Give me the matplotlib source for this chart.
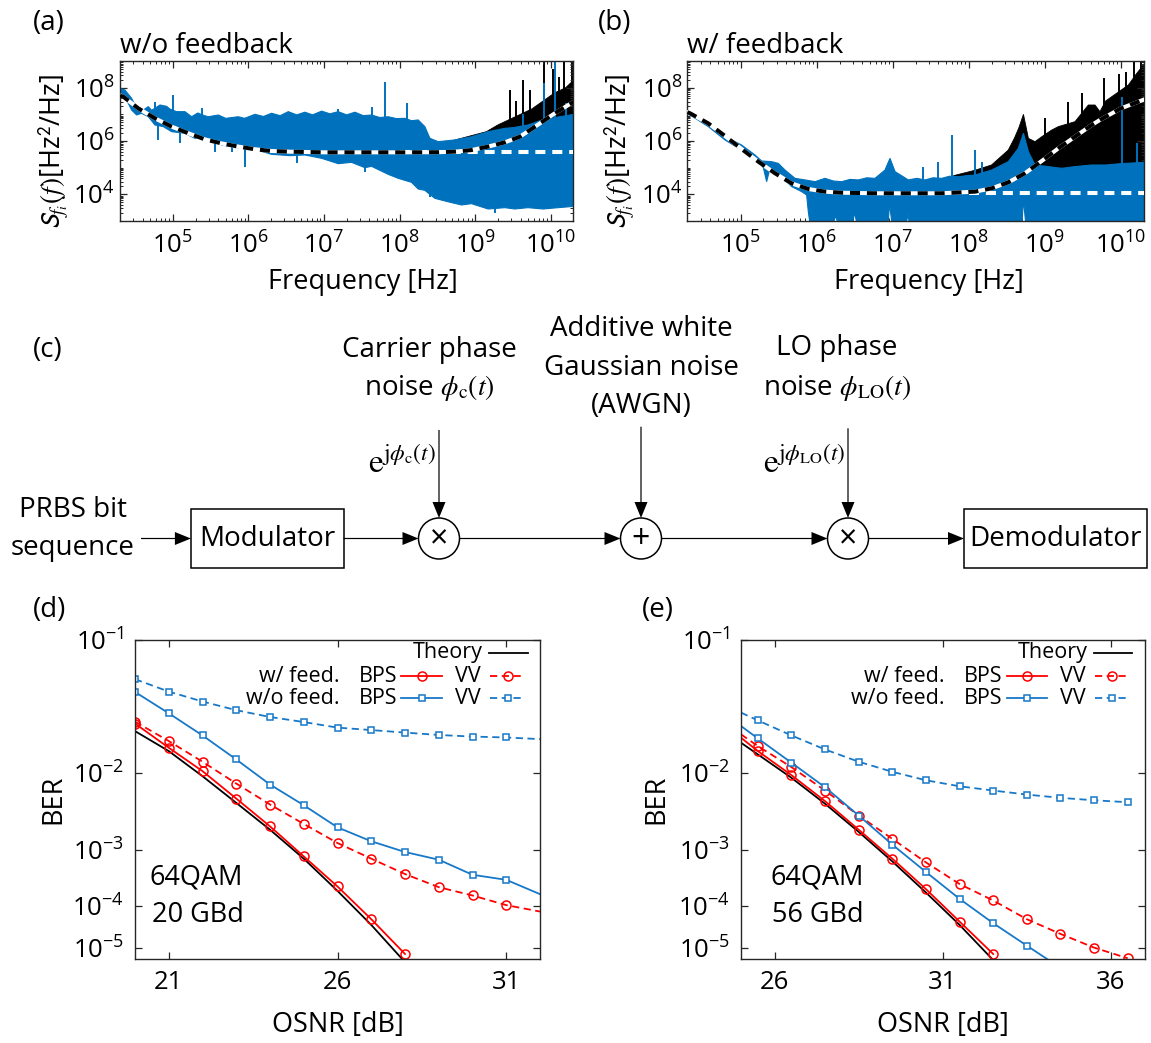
import numpy as np
import matplotlib
matplotlib.use("Agg")
import matplotlib.pyplot as plt
from matplotlib.ticker import FixedLocator, LogLocator, NullLocator, NullFormatter, LogFormatterSciNotation
from matplotlib.patches import Circle, Rectangle

plt.rcParams['font.family'] = ['Open Sans', 'DejaVu Sans']
plt.rcParams['mathtext.fontset'] = 'custom'
plt.rcParams['mathtext.rm'] = 'Open Sans'
plt.rcParams['mathtext.it'] = 'Open Sans:italic'
plt.rcParams['mathtext.bf'] = 'Open Sans:bold'
plt.rcParams['mathtext.sf'] = 'Open Sans'

BLUE = '#0072BD'
BER_BLUE = '#1878C8'
RED = '#FF0000'
AXC = '#262626'

# ---------------- (a) w/o feedback, spectra (log10 units)
a_fit_logf = [4.30, 4.345, 4.543, 4.764, 4.984, 5.205, 5.425, 5.646, 5.866, 6.087, 6.307, 6.528,
              7.0, 7.5, 8.0, 8.51, 8.732, 8.953, 9.173, 9.394, 9.592, 9.8, 10.055, 10.31]
a_fit_logS = [7.70, 7.66, 7.225, 6.85, 6.54, 6.29, 6.06, 5.91, 5.79, 5.69, 5.625, 5.60,
              5.575, 5.575, 5.575, 5.58, 5.60, 5.66, 5.79, 5.95, 6.16, 6.55, 7.04, 7.48]
a_floor_logf = [8.0, 10.31]
a_floor_logS = [5.575, 5.575]

a_blue_up_logf = [4.30, 4.367, 4.455, 4.543, 4.610, 4.676, 4.72, 4.830, 4.918, 4.96, 5.050, 5.161,
                  5.249, 5.33, 5.42, 5.470, 5.602, 5.70, 5.866, 5.95, 6.087, 6.2, 6.307, 6.42, 6.528,
                  6.64, 6.748, 6.85, 6.969, 7.08, 7.189, 7.3, 7.410, 7.52, 7.630, 7.74, 7.850, 7.96,
                  8.071, 8.16, 8.247, 8.335, 8.402, 8.512, 8.732, 8.953, 9.173, 9.394, 9.5, 9.7, 9.9,
                  10.1, 10.31]
a_blue_up_logS = [7.975, 7.91, 7.60, 7.10, 7.16, 7.29, 7.15, 7.35, 7.30, 7.20, 7.10, 7.10,
                  6.91, 7.05, 6.95, 6.91, 6.975, 6.85, 6.91, 6.85, 7.00, 6.92, 7.04, 6.95, 7.10,
                  6.98, 7.08, 6.98, 7.12, 7.02, 7.10, 6.98, 7.08, 6.95, 6.975, 6.88, 6.91, 6.84,
                  6.85, 6.76, 6.79, 6.54, 6.10, 5.975, 6.04, 6.16, 6.35, 6.475, 6.5, 6.6, 6.8,
                  6.9, 7.0]
a_blue_lo_logf = [4.30, 4.367, 4.455, 4.521, 4.587, 4.676, 4.764, 4.874, 4.984, 5.161, 5.293, 5.425,
                  5.646, 5.85, 6.042, 6.307, 6.55, 6.748, 6.969, 7.189, 7.365, 7.542, 7.630, 7.850,
                  7.983, 8.159, 8.247, 8.335, 8.468, 8.644, 8.820, 8.953, 9.173, 9.394, 9.526, 9.7,
                  9.9, 10.1, 10.31]
a_blue_lo_logS = [7.875, 7.66, 7.16, 6.975, 7.04, 6.91, 6.6, 6.54, 6.35, 6.29, 6.10, 6.10,
                  5.85, 5.75, 5.725, 5.5, 5.45, 5.475, 5.35, 5.15, 5.2, 5.0, 5.05, 4.75,
                  4.6, 4.45, 4.2, 4.15, 3.85, 3.72, 3.6, 3.65, 3.45, 3.5, 3.45, 3.5,
                  3.45, 3.5, 3.55]
# narrow upward peaks and downward dips of the blue trace
a_blue_spk_logf = [4.764, 5.006, 5.381, 7.19, 7.63, 7.806, 8.093, 9.63, 9.906, 10.055, 10.2]
a_blue_spk_logS = [7.475, 7.725, 7.25, 7.2, 7.29, 8.225, 7.41, 7.0, 8.16, 9.0, 7.42]
a_blue_dip_logf = [4.808, 5.095, 5.557, 5.778, 5.954, 6.638, 7.542, 8.40, 9.261]
a_blue_dip_logS = [6.04, 5.91, 5.60, 5.60, 5.04, 5.16, 4.85, 3.9, 3.29]
a_black_logf = [8.6, 8.75, 8.95, 9.15, 9.3, 9.45, 9.6, 9.75, 9.9, 10.05, 10.2, 10.31]
a_black_logS = [5.9, 6.05, 6.2, 6.35, 6.6, 6.8, 7.0, 7.2, 7.5, 7.8, 8.0, 8.3]
a_black_spk_logf = [9.466, 9.54, 9.63, 9.73, 9.906, 10.03, 10.11, 10.18, 10.28]
a_black_spk_logS = [7.91, 7.5, 8.29, 7.9, 9.0, 8.7, 8.4, 9.0, 9.0]

# ---------------- (b) w/ feedback
b_fit_logf = [4.30, 4.335, 4.576, 4.795, 5.014, 5.234, 5.453, 5.672, 5.891, 6.110, 6.330, 6.768,
              7.206, 7.645, 8.083, 8.302, 8.521, 8.740, 8.960, 9.179, 9.398, 9.617, 9.726, 10.0, 10.31]
b_fit_logS = [7.08, 7.04, 6.66, 6.19, 5.70, 5.225, 4.79, 4.41, 4.20, 4.10, 4.06, 4.04,
              4.04, 4.04, 4.10, 4.225, 4.45, 4.79, 5.25, 5.725, 6.16, 6.60, 6.79, 7.22, 7.56]
b_floor_logf = [8.0, 10.31]
b_floor_logS = [4.04, 4.04]

b_blue_up_logf = [4.30, 4.335, 4.576, 4.708, 4.795, 4.883, 5.014, 5.19, 5.278, 5.409, 5.497, 5.585,
                  5.716, 5.848, 5.979, 6.11, 6.22, 6.33, 6.44, 6.549, 6.66, 6.768, 6.899, 6.965,
                  7.032, 7.206, 7.32, 7.425, 7.53, 7.645, 7.75, 7.864, 7.97, 8.083, 8.302, 8.521,
                  8.653, 8.72, 8.785, 8.872, 9.047, 9.222, 9.398, 9.617, 9.8, 10.0, 10.31]
b_blue_up_logS = [7.1, 7.075, 6.66, 6.29, 6.225, 6.04, 5.85, 5.475, 5.25, 5.225, 5.16, 4.91,
                  4.60, 4.54, 4.475, 4.60, 4.50, 4.475, 4.56, 4.54, 4.62, 4.60, 4.91, 5.35,
                  4.85, 4.54, 4.60, 4.54, 4.62, 4.60, 4.68, 4.66, 4.70, 4.725, 4.91, 5.225,
                  5.725, 6.29, 5.60, 5.10, 5.04, 4.975, 5.04, 5.10, 5.1, 5.15, 5.2]
b_blue_lo_logf = [4.30, 4.335, 4.576, 4.795, 5.014, 5.234, 5.30, 5.343, 5.38, 5.409, 5.541, 5.672,
                  5.804, 5.869, 5.891, 5.913, 6.22, 6.25, 6.28, 6.47, 6.5, 6.53, 6.94, 6.96, 6.99,
                  7.18, 7.2, 7.22, 8.70, 8.72, 8.75, 10.31]
b_blue_lo_logS = [7.0, 6.975, 6.54, 6.04, 5.66, 5.225, 5.0, 4.475, 4.9, 4.91, 4.66, 4.29,
                  4.10, 3.975, 3.35, 2.9, 2.9, 3.2, 2.9, 2.9, 3.3, 2.9, 2.9, 3.66, 2.9,
                  2.9, 3.25, 2.9, 2.9, 3.79, 2.9, 2.9]
b_blue_spk_logf = [7.403, 7.60, 7.776, 8.083, 8.17, 10.02, 10.21]
b_blue_spk_logS = [5.04, 5.225, 6.225, 5.66, 5.22, 7.66, 5.91]
b_blue_dip_logf = []
b_blue_dip_logS = []
b_black_logf = [7.8, 8.08, 8.3, 8.52, 8.6, 8.66, 8.72, 8.785, 8.872, 8.96, 9.091, 9.179, 9.398,
                9.573, 9.661, 9.726, 9.8, 9.95, 10.1, 10.2, 10.31]
b_black_logS = [4.7, 4.9, 5.1, 5.66, 6.1, 6.5, 7.0, 6.1, 5.975, 6.16, 6.41, 6.54, 6.725,
                7.35, 7.35, 7.1, 7.5, 7.8, 8.1, 8.5, 8.9]
b_black_spk_logf = [9.004, 9.311, 9.486, 9.78, 9.98, 10.07, 10.17, 10.27]
b_black_spk_logS = [6.85, 7.475, 7.79, 8.36, 8.5, 8.6, 9.0, 9.0]

# ---------------- (d) 64QAM 20 GBd
d_osnr = [20, 21, 22, 23, 24, 25, 26, 27, 28, 29, 30, 31, 32]
d_wo_vv = [0.0593, 0.0491, 0.0418, 0.0361, 0.0320, 0.0292, 0.0263, 0.0251, 0.0239, 0.0228, 0.0221, 0.0217, 0.0210]
d_wo_bps = [0.0488, 0.0342, 0.0226, 0.01362, 0.00747, 0.00427, 0.00219, 0.00138, 0.000944, 0.000710,
            0.000392, 0.000318, 0.000170]
d_w_vv = [0.0294, 0.0202, 0.01294, 0.00766, 0.00436, 0.00244, 0.00130, 0.000738, 0.000404, 0.000232,
          0.000160, 0.000102, 7.45e-5]
d_osnr_short = [20, 21, 22, 23, 24, 25, 26, 27, 28]
d_w_bps = [0.0284, 0.01758, 0.01040, 0.00515, 0.00226, 0.000803, 0.000239, 5.06e-5, 7.05e-6]
d_theory = [0.0246, 0.01637, 0.00920, 0.00457, 0.00203, 0.000738, 0.000197, 3.75e-5, 4.2e-6]

# ---------------- (e) 64QAM 56 GBd
e_osnr = [25, 25.5, 26.5, 27.5, 28.5, 29.5, 30.5, 31.5, 32.5, 33.5, 34.5, 35.5, 36.5]
e_wo_vv = [0.0346, 0.0301, 0.0226, 0.01694, 0.01294, 0.01023, 0.00832, 0.00714, 0.00639, 0.00574,
           0.00525, 0.00491, 0.00465]
e_w_vv = [0.0231, 0.0182, 0.01143, 0.00639, 0.00316, 0.00150, 0.000640, 0.000266, 0.000127, 5.06e-5,
          2.30e-5, 1.04e-5, 5.4e-6]
e_osnr_bps = [25, 25.5, 26.5, 27.5, 28.5, 29.5, 30.5, 31.5, 32.5, 33.5, 34.5]
e_wo_bps = [0.0271, 0.0213, 0.01265, 0.00696, 0.00316, 0.00123, 0.000439, 0.000137, 4.11e-5, 1.17e-5, 2.9e-6]
e_osnr_short = [25, 25.5, 26.5, 27.5, 28.5, 29.5, 30.5, 31.5, 32.5]
e_w_bps = [0.0216, 0.01637, 0.00944, 0.00479, 0.00203, 0.000738, 0.000213, 4.47e-5, 7.05e-6]
e_theory = [0.0195, 0.01524, 0.00885, 0.00445, 0.00189, 0.000665, 0.000183, 3.75e-5, 4.8e-6]

ber_ticks = [1e-5, 1e-4, 1e-3, 1e-2, 1e-1]
ber_ticklabels = [r'$\mathdefault{10^{-5}}$', r'$\mathdefault{10^{-4}}$', r'$\mathdefault{10^{-3}}$',
                  r'$\mathdefault{10^{-2}}$', r'$\mathdefault{10^{-1}}$']

W, H = 1151, 1043
fig = plt.figure(figsize=(W / 100, H / 100), dpi=100)


def px_axes(l, t, r, b, **kw):
    return fig.add_axes([l / W, 1 - b / H, (r - l) / W, (b - t) / H], **kw)


def style_box(ax):
    for s in ax.spines.values():
        s.set_color(AXC)
        s.set_linewidth(1.0)


def spectrum(ax, title, fit, floor, up, lo, bspk, bdip, blk, kspk, kbase, ypad):
    # black trace (underneath), only its upper envelope is visible
    kf = np.array(blk[0]); ks = np.array(blk[1])
    ax.fill(10 ** np.concatenate([kf, kf[::-1]]), 10 ** np.concatenate([ks, np.full(len(kf), kbase)]),
            color='k', lw=0.6, zorder=1)
    ax.vlines(10 ** np.array(kspk[0]), 10 ** kbase, 10 ** np.array(kspk[1]), color='k', lw=1.4, zorder=1)
    # blue trace as band between envelopes
    uf, us = np.array(up[0]), np.array(up[1])
    lf, ls = np.array(lo[0]), np.array(lo[1])
    ax.fill(10 ** np.concatenate([uf, lf[::-1]]), 10 ** np.concatenate([us, ls[::-1]]),
            color=BLUE, lw=0.8, zorder=2)
    sf = np.array(bspk[0])
    ax.vlines(10 ** sf, 10 ** np.interp(sf, lf, ls), 10 ** np.array(bspk[1]), color=BLUE, lw=1.4, zorder=2)
    if len(bdip[0]):
        df = np.array(bdip[0])
        ax.vlines(10 ** df, 10 ** np.array(bdip[1]), 10 ** np.interp(df, uf, us), color=BLUE, lw=1.4, zorder=2)
    # fitted model and white-noise floor
    ax.plot(10 ** np.array(floor[0]), 10 ** np.array(floor[1]), color='white', lw=2.9,
            dashes=(2.5, 1.7), zorder=3)
    ax.plot(10 ** np.array(fit[0]), 10 ** np.array(fit[1]), color='white', lw=2.9, zorder=4)
    ax.plot(10 ** np.array(fit[0]), 10 ** np.array(fit[1]), color='k', lw=2.9,
            dashes=(2.5, 1.7), zorder=5)

    ax.set_xscale('log')
    ax.set_yscale('log')
    ax.set_xlim(2e4, 2e10)
    ax.set_ylim(1e3, 1e9)
    ax.xaxis.set_major_locator(FixedLocator([1e5, 1e6, 1e7, 1e8, 1e9, 1e10]))
    ax.xaxis.set_minor_locator(LogLocator(base=10, subs=np.arange(2, 10), numticks=100))
    ax.yaxis.set_major_locator(FixedLocator([1e4, 1e6, 1e8]))
    ax.yaxis.set_minor_locator(LogLocator(base=10, subs=np.arange(1, 10), numticks=100))
    ax.xaxis.set_major_formatter(LogFormatterSciNotation())
    ax.yaxis.set_major_formatter(LogFormatterSciNotation())
    ax.xaxis.set_minor_formatter(NullFormatter())
    ax.yaxis.set_minor_formatter(NullFormatter())
    ax.tick_params(which='both', direction='in', top=True, right=True, colors=AXC,
                   labelcolor='k', labelsize=18.5)
    ax.tick_params(which='major', length=5, width=0.9)
    ax.tick_params(which='minor', length=2.5, width=0.7)
    ax.tick_params(axis='x', pad=8)
    ax.tick_params(axis='y', pad=ypad)
    style_box(ax)
    ax.set_title(title, loc='left', pad=6, fontsize=20)
    ax.set_xlabel('Frequency [Hz]', fontsize=19.5, va='center')
    ax.set_ylabel(r'$\mathsf{S}_{f_i}(f)$[Hz$^{\mathsf{2}}$/Hz]', fontsize=19.5, va='center',
                  math_fontfamily='stix')


def ber_axes(ax, xlim, xticks, ypad):
    fwd = lambda b: -np.log10(-np.log10(b))
    inv = lambda y: 10 ** (-10 ** (-y))
    ax.set_yscale('function', functions=(fwd, inv))
    ax.set_xlim(*xlim)
    ax.set_ylim(5.15e-6, 0.1)
    ax.set_yticks(ber_ticks, ber_ticklabels)
    ax.yaxis.set_minor_locator(NullLocator())
    ax.set_xticks(xticks, [str(t) for t in xticks])
    ax.tick_params(direction='in', top=True, right=True, length=5, width=0.9, colors=AXC,
                   labelcolor='k', labelsize=18.5)
    ax.tick_params(axis='x', pad=8)
    ax.tick_params(axis='y', pad=ypad)
    style_box(ax)
    ax.set_xlabel('OSNR [dB]', fontsize=19.5, va='center')
    ax.set_ylabel('BER', fontsize=19.5, va='center')


def mk_style(marker, color):
    if marker == 'o':
        return dict(marker='o', mfc='none', mec=color, ms=6.5, mew=1.1)
    return dict(marker='s', mfc='white', mec=color, ms=4.5, mew=1.1)


def ber_line(ax, x, y, color, marker, dashed, marks):
    kw = dict(color=color, lw=1.3, markevery=marks, **mk_style(marker, color))
    if dashed:
        kw['dashes'] = (4, 2.5)
    ax.plot(x, y, **kw)


def ber_legend(ax):
    tr = ax.transAxes
    fs = 15.5
    ax.text(0.859, 0.960, 'Theory', transform=tr, ha='right', va='center', fontsize=fs)
    ax.plot([0.874, 0.970], [0.960, 0.960], transform=tr, color='k', lw=1.3)
    for y, lab, col, mk in [(0.887, 'w/ feed.', RED, 'o'), (0.817, 'w/o feed.', BER_BLUE, 's')]:
        ax.text(0.505, y, lab, transform=tr, ha='right', va='center', fontsize=fs)
        ax.text(0.553, y, 'BPS', transform=tr, ha='left', va='center', fontsize=fs)
        ax.plot([0.658, 0.758], [y, y], transform=tr, color=col, lw=1.3)
        ax.plot([0.708], [y], transform=tr, **mk_style(mk, col))
        ax.text(0.790, y, 'VV', transform=tr, ha='left', va='center', fontsize=fs)
        ax.plot([0.877, 0.963], [y, y], transform=tr, color=col, lw=1.3, dashes=(4, 2.5))
        ax.plot([0.920], [y], transform=tr, **mk_style(mk, col))


# ---------------- panels (a), (b)
ax_a = px_axes(120, 61, 573.4, 221)
spectrum(ax_a, 'w/o feedback', (a_fit_logf, a_fit_logS), (a_floor_logf, a_floor_logS),
         (a_blue_up_logf, a_blue_up_logS), (a_blue_lo_logf, a_blue_lo_logS),
         (a_blue_spk_logf, a_blue_spk_logS), (a_blue_dip_logf, a_blue_dip_logS),
         (a_black_logf, a_black_logS), (a_black_spk_logf, a_black_spk_logS), 5.0, 3.5)
ax_a.xaxis.set_label_coords(0.535, -0.379)
ax_a.yaxis.set_label_coords(-0.1465, 0.434)

ax_b = px_axes(687.4, 61, 1143.7, 221)
spectrum(ax_b, 'w/ feedback', (b_fit_logf, b_fit_logS), (b_floor_logf, b_floor_logS),
         (b_blue_up_logf, b_blue_up_logS), (b_blue_lo_logf, b_blue_lo_logS),
         (b_blue_spk_logf, b_blue_spk_logS), (b_blue_dip_logf, b_blue_dip_logS),
         (b_black_logf, b_black_logS), (b_black_spk_logf, b_black_spk_logS), 4.0, 3.4)
ax_b.xaxis.set_label_coords(0.5295, -0.379)
ax_b.yaxis.set_label_coords(-0.1477, 0.434)

# ---------------- panel (d)
ax_d = px_axes(135, 640, 540, 959)
ber_axes(ax_d, (20, 32), [21, 26, 31], 8)
ax_d.plot(d_osnr_short, d_theory, color='k', lw=1.3)
ber_line(ax_d, d_osnr_short, d_w_bps, RED, 'o', False, list(range(9)))
ber_line(ax_d, d_osnr, d_w_vv, RED, 'o', True, list(range(12)))
ber_line(ax_d, d_osnr, d_wo_bps, BER_BLUE, 's', False, list(range(12)))
ber_line(ax_d, d_osnr, d_wo_vv, BER_BLUE, 's', True, list(range(12)))
ber_legend(ax_d)
ax_d.text(0.037, 0.256, '64QAM', transform=ax_d.transAxes, fontsize=19.5, va='center')
ax_d.text(0.041, 0.138, '20 GBd', transform=ax_d.transAxes, fontsize=19.5, va='center')
ax_d.xaxis.set_label_coords(0.5, -0.207)
ax_d.yaxis.set_label_coords(-0.201, 0.5)

# ---------------- panel (e)
ax_e = px_axes(741, 640, 1144.5, 959)
ber_axes(ax_e, (25, 37), [26, 31, 36], 8)
ax_e.plot(e_osnr_short, e_theory, color='k', lw=1.3)
ber_line(ax_e, e_osnr_short, e_w_bps, RED, 'o', False, list(range(1, 9)))
ber_line(ax_e, e_osnr, e_w_vv, RED, 'o', True, list(range(1, 13)))
ber_line(ax_e, e_osnr_bps, e_wo_bps, BER_BLUE, 's', False, list(range(1, 11)))
ber_line(ax_e, e_osnr, e_wo_vv, BER_BLUE, 's', True, list(range(1, 13)))
ber_legend(ax_e)
ax_e.text(0.072, 0.256, '64QAM', transform=ax_e.transAxes, fontsize=19.5, va='center')
ax_e.text(0.076, 0.138, '56 GBd', transform=ax_e.transAxes, fontsize=19.5, va='center')
ax_e.xaxis.set_label_coords(0.5, -0.207)
ax_e.yaxis.set_label_coords(-0.2094, 0.5)

# ---------------- (c) block diagram, in pixel coordinates
dg = fig.add_axes([0, 0, 1, 1], zorder=-1)
dg.set_xlim(0, W)
dg.set_ylim(H, 0)
dg.axis('off')
yc = 538.5
r = 20.5
fs_d = 20


def arrow(x0, y0, x1, y1):
    dg.arrow(x0, y0, x1 - x0, y1 - y0, width=1.2, head_width=13, head_length=16,
             length_includes_head=True, color='k', lw=0)


dg.add_patch(Rectangle((190.9, 509.3), 152.7, 58.4, fill=False, ec='k', lw=1.1))
dg.add_patch(Rectangle((964, 509.3), 183, 58.4, fill=False, ec='k', lw=1.1))
dg.text(267.2, yc, 'Modulator', ha='center', va='center', fontsize=fs_d)
dg.text(1055.5, yc, 'Demodulator', ha='center', va='center', fontsize=fs_d)
dg.text(73, 510, 'PRBS bit', ha='center', va='center', fontsize=fs_d)
dg.text(73, 548, 'sequence', ha='center', va='center', fontsize=fs_d)
for cx, sym in [(439, '×'), (641, '+'), (848, '×')]:
    dg.add_patch(Circle((cx, yc), r, fill=False, ec='k', lw=1.1))
    dg.text(cx, yc + 1, sym, ha='center', va='center', fontsize=23)
arrow(141, yc, 190.9, yc)
arrow(343.6, yc, 439 - r, yc)
arrow(439 + r, yc, 641 - r, yc)
arrow(641 + r, yc, 848 - r, yc)
arrow(848 + r, yc, 964, yc)
arrow(439, 430, 439, yc - r)
arrow(641, 426.7, 641, yc - r)
arrow(848, 428.3, 848, yc - r)

dg.text(429.5, 350, 'Carrier phase', ha='center', va='center', fontsize=fs_d)
dg.text(429.5, 388, r'noise $\phi_{\mathrm{c}}(t)$', ha='center', va='center', fontsize=fs_d,
        math_fontfamily='stix')
dg.text(641, 329.3, 'Additive white', ha='center', va='center', fontsize=fs_d)
dg.text(641, 368.3, 'Gaussian noise', ha='center', va='center', fontsize=fs_d)
dg.text(641, 406, '(AWGN)', ha='center', va='center', fontsize=fs_d)
dg.text(837, 348.3, 'LO phase', ha='center', va='center', fontsize=fs_d)
dg.text(837, 388, r'noise $\phi_{\mathrm{LO}}(t)$', ha='center', va='center', fontsize=fs_d,
        math_fontfamily='stix')
dg.text(436, 464, r'$\mathrm{e}^{\mathrm{j}\phi_{\mathrm{c}}(t)}$', ha='right', va='center',
        fontsize=24, math_fontfamily='stix')
dg.text(845, 464, r'$\mathrm{e}^{\mathrm{j}\phi_{\mathrm{LO}}(t)}$', ha='right', va='center',
        fontsize=24, math_fontfamily='stix')

# ---------------- panel letters
for x, y, s in [(33, 23, '(a)'), (598, 23, '(b)'), (33, 350, '(c)'), (33, 610, '(d)'), (642, 610, '(e)')]:
    fig.text(x / W, 1 - y / H, s, ha='left', va='center', fontsize=20)

fig.savefig('out.png', dpi=100)
